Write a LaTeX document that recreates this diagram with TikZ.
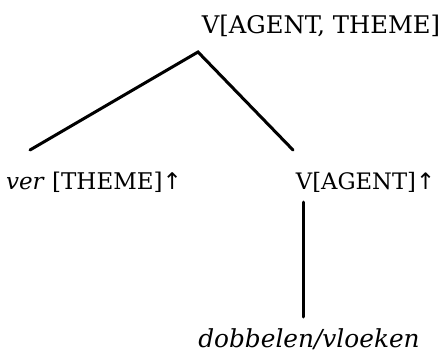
\documentclass[tikz,border=0pt]{standalone}
\usepackage{fontspec}
\setmainfont{DejaVu Serif}
\newfontfamily\arrowfont{DejaVu Sans}
\begin{document}
\begin{tikzpicture}[x=1pt,y=-1pt,
  lbl/.style={inner sep=0pt,anchor=base},
  edge/.style={line width=3pt,line cap=round}]
\useasboundingbox (0,0) rectangle (442,359);
\node[lbl,font=\fontsize{24.3}{28}\selectfont] (top) at (321,33) {V[AGENT, THEME]};
\node[lbl,font=\fontsize{23}{27}\selectfont] (left) at (94,189) {\textit{ver} [THEME]{\arrowfont↑}};
\node[lbl,font=\fontsize{22.7}{27}\selectfont] (right) at (365.5,189) {V[AGENT]{\arrowfont↑}};
\node[lbl,font=\fontsize{24.8}{29}\selectfont] (bot) at (309,347) {\textit{dobbelen/vloeken}};
\coordinate (apex) at (198,52);
\coordinate (lend) at (30,150);
\coordinate (rend) at (293,150);
\coordinate (vtop) at (303,202);
\coordinate (vbot) at (303,317);
\draw[edge] (lend) -- (apex) -- (rend);
\draw[edge] (vtop) -- (vbot);
\end{tikzpicture}
\end{document}
